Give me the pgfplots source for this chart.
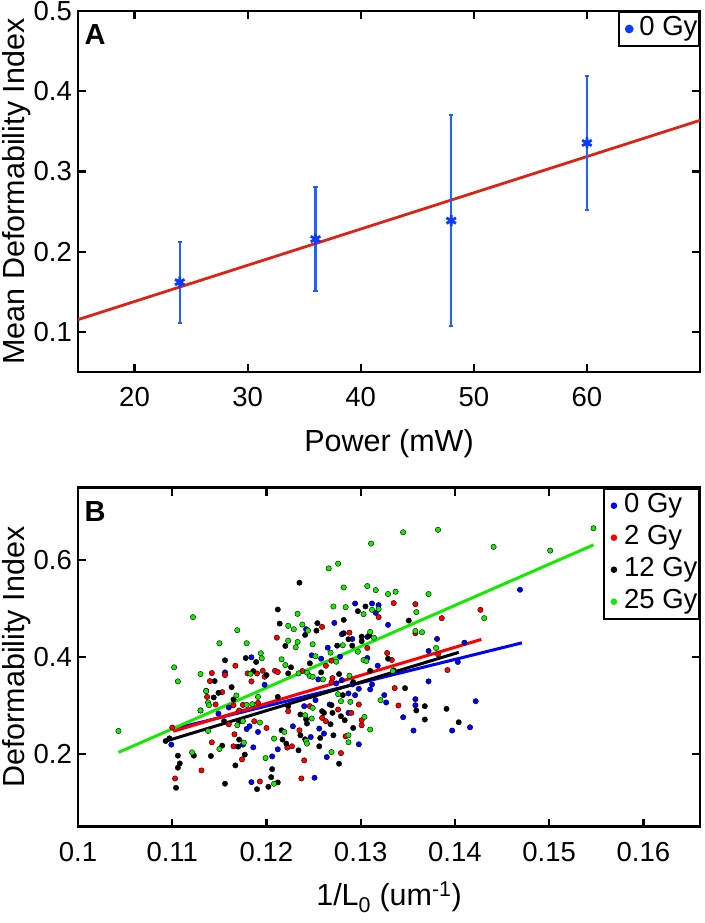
\documentclass[border=0pt]{standalone}
\usepackage{fontspec}
\setmainfont{Liberation Sans}
\usepackage{pgfplots}
\pgfplotsset{compat=1.18}
\definecolor{ebblue}{RGB}{30,100,245}
\definecolor{stblue}{RGB}{10,60,255}
\definecolor{fitred}{RGB}{220,35,20}
\definecolor{dblue}{RGB}{0,0,255}
\definecolor{dred}{RGB}{255,0,0}
\definecolor{dgreen}{RGB}{20,235,0}
\pgfplotsset{
  myaxis/.style={
    scale only axis, width=622pt,
    tick align=inside, major tick length=8pt,
    every tick/.style={black, line width=2.2pt},
    axis line style={line width=2.5pt},
    tick label style={font=\fontsize{27.5}{33}\selectfont},
    label style={font=\fontsize{30.5}{36}\selectfont},
    /pgf/number format/assume math mode=true,
    xticklabel style={inner sep=0pt, anchor=north, yshift=-15pt},
    yticklabel style={inner sep=0pt, anchor=east, xshift=-6pt},
    xlabel style={at={(axis description cs:0.5,0)}, anchor=base, yshift=-79pt, inner sep=0pt},
    ylabel style={at={(axis description cs:-0.0756,0.5)}, anchor=south, inner sep=0pt},
    legend cell align=left,
    legend style={at={(1,1)}, anchor=north east, draw=black, line width=2pt, inner xsep=0.5pt, inner ysep=1pt,
      font=\fontsize{27.5}{33}\selectfont,
      nodes={inner xsep=1pt, inner ysep=2.5pt, text depth=6.5pt, text height=20.5pt}},
  },
  dotleg/.style={legend image code/.code={\path[draw=none, fill=none] (0pt,-5pt) rectangle (19pt,5pt); \fill[#1] (9.8pt,0pt) circle (2.2pt);}},
  scat/.style={only marks, mark=*, mark size=2.7pt, mark options={draw=none, fill=#1}, dotleg=#1},
}
\begin{document}
\begin{tikzpicture}
\useasboundingbox (-78pt,11pt) rectangle (626pt,-912pt);
% ---------- Panel A ----------
\begin{axis}[myaxis, at={(0pt,0pt)}, anchor=north west, height=361pt,
  xmin=15, xmax=70, ymin=0.05, ymax=0.5,
  xtick={20,30,40,50,60}, xticklabels={20,30,40,50,60},
  ytick={0.1,0.2,0.3,0.4,0.5}, yticklabels={0.1,0.2,0.3,0.4,0.5},
  xlabel={Power (mW)}, ylabel={Mean Deformability Index}]
\addplot[fitred, line width=2.8pt, forget plot] coordinates {(15,0.1153) (70,0.3637)};
\addplot[only marks, mark=asterisk, mark size=5.5pt, mark options={stblue, line width=2.8pt},
  legend image code/.code={\path[draw=none, fill=none] (0pt,-5pt) rectangle (19pt,5pt); \fill[stblue] (9.8pt,0pt) circle (3.3pt);},
  error bars/.cd, y dir=both, y explicit, error mark=|,
  error bar style={ebblue, line width=2.5pt},
  error mark options={ebblue, line width=2pt, mark size=2.2pt}]
  table[x=x, y=y, y error=e] {
x y e
24 0.1620 0.0505
36 0.2157 0.0650
48 0.2387 0.1316
60 0.3355 0.0835
};
\addlegendentry{0 Gy}
\end{axis}
% ---------- Panel B ----------
\begin{axis}[myaxis, at={(0pt,-476.7pt)}, anchor=north west, height=339pt,
  xmin=0.1, xmax=0.166, ymin=0.05, ymax=0.75,
  xtick={0.1,0.11,0.12,0.13,0.14,0.15,0.16}, xticklabels={0.1,0.11,0.12,0.13,0.14,0.15,0.16},
  ytick={0.2,0.4,0.6}, yticklabels={0.2,0.4,0.6},
  xlabel={1/L\textsubscript{0} (um\textsuperscript{-1})}, ylabel={Deformability Index}]
\addplot[scat=dblue] table {
x y
0.1294 0.5109
0.1312 0.5109
0.1319 0.5076
0.1316 0.4916
0.1242 0.4578
0.1272 0.4709
0.1329 0.4667
0.1280 0.4475
0.1291 0.4377
0.1307 0.4419
0.1265 0.4197
0.1184 0.3998
0.1156 0.3687
0.1198 0.3430
0.1149 0.2837
0.1160 0.2962
0.1179 0.2518
0.1182 0.2574
0.1191 0.2456
0.1099 0.2195
0.1175 0.2195
0.1186 0.2139
0.1184 0.1420
0.1248 0.4039
0.1258 0.3969
0.1255 0.3542
0.1278 0.4010
0.1280 0.3528
0.1274 0.3459
0.1307 0.3983
0.1318 0.3824
0.1335 0.3729
0.1291 0.3438
0.1312 0.3438
0.1310 0.3335
0.1298 0.3347
0.1372 0.3501
0.1325 0.3217
0.1327 0.3065
0.1358 0.3134
0.1358 0.3009
0.1345 0.2761
0.1356 0.2485
0.1240 0.2989
0.1252 0.3113
0.1267 0.3024
0.1287 0.3252
0.1294 0.3217
0.1287 0.2850
0.1256 0.2526
0.1261 0.2423
0.1228 0.2574
0.1247 0.2352
0.1212 0.2098
0.1264 0.1938
0.1298 0.2201
0.1206 0.1952
0.1251 0.1511
0.1469 0.5393
0.1381 0.4377
0.1372 0.4129
0.1410 0.4300
0.1403 0.3901
0.1422 0.3092
0.1397 0.2485
0.1416 0.2553
};
\addlegendentry{0 Gy}
\addplot[scat=dred] table {
x y
0.1335 0.5117
0.1358 0.5096
0.1319 0.4827
0.1259 0.4626
0.1358 0.4495
0.1211 0.4404
0.1288 0.4508
0.1307 0.4191
0.1142 0.3673
0.1140 0.3507
0.1167 0.3824
0.1156 0.3631
0.1180 0.3666
0.1190 0.3666
0.1196 0.3720
0.1198 0.3596
0.1184 0.3501
0.1136 0.3306
0.1153 0.3279
0.1137 0.3181
0.1146 0.3024
0.1165 0.3009
0.1175 0.3015
0.1191 0.3057
0.1171 0.2900
0.1160 0.2616
0.1187 0.2678
0.1200 0.2539
0.1142 0.2243
0.1165 0.2160
0.1166 0.2408
0.1131 0.1662
0.1174 0.1890
0.1103 0.1496
0.1193 0.1434
0.1100 0.2547
0.1209 0.3720
0.1212 0.3693
0.1238 0.3714
0.1263 0.3824
0.1269 0.3928
0.1270 0.3569
0.1269 0.3480
0.1328 0.4087
0.1336 0.3362
0.1340 0.3003
0.1246 0.2989
0.1223 0.2885
0.1259 0.2746
0.1263 0.2678
0.1276 0.2920
0.1298 0.3024
0.1290 0.2850
0.1301 0.2699
0.1301 0.2595
0.1235 0.2491
0.1227 0.2160
0.1222 0.2133
0.1279 0.2021
0.1284 0.2367
0.1240 0.1870
0.1237 0.1496
0.1386 0.4806
0.1427 0.4978
0.1382 0.4060
0.1392 0.3735
0.1333 0.3942
};
\addlegendentry{2 Gy}
\addplot[scat=black] table {
x y
0.1235 0.5538
0.1305 0.5047
0.1297 0.4951
0.1212 0.4985
0.1214 0.4694
0.1241 0.4460
0.1254 0.4703
0.1253 0.4549
0.1282 0.4771
0.1351 0.4757
0.1220 0.4232
0.1282 0.4495
0.1287 0.4371
0.1301 0.4425
0.1309 0.4446
0.1301 0.4330
0.1275 0.4238
0.1291 0.4238
0.1145 0.3507
0.1156 0.3936
0.1178 0.3983
0.1189 0.3901
0.1186 0.3714
0.1200 0.3631
0.1149 0.3264
0.1163 0.3382
0.1144 0.3169
0.1165 0.3128
0.1130 0.2900
0.1155 0.2678
0.1171 0.2678
0.1093 0.2269
0.1097 0.2325
0.1153 0.2174
0.1171 0.2299
0.1170 0.2153
0.1123 0.1967
0.1106 0.1967
0.1108 0.1807
0.1106 0.1718
0.1141 0.1959
0.1167 0.1766
0.1177 0.1988
0.1104 0.1304
0.1156 0.1387
0.1190 0.1275
0.1202 0.1324
0.1226 0.3791
0.1223 0.3666
0.1246 0.3874
0.1258 0.3687
0.1277 0.3652
0.1329 0.3969
0.1310 0.3720
0.1292 0.3486
0.1347 0.3362
0.1359 0.2900
0.1368 0.2989
0.1368 0.2713
0.1212 0.3181
0.1223 0.2989
0.1236 0.2817
0.1242 0.2719
0.1243 0.2630
0.1259 0.2885
0.1261 0.2850
0.1269 0.3009
0.1270 0.2850
0.1268 0.2616
0.1279 0.2781
0.1283 0.2699
0.1281 0.3217
0.1292 0.2539
0.1257 0.2332
0.1271 0.2388
0.1216 0.2491
0.1217 0.2299
0.1221 0.2216
0.1236 0.2388
0.1241 0.2305
0.1234 0.2077
0.1256 0.2160
0.1277 0.1801
0.1206 0.1689
0.1205 0.1523
0.1212 0.1414
0.1391 0.2933
0.1404 0.2657
};
\addlegendentry{12 Gy}
\addplot[scat=dgreen] table {
x y
0.1122 0.4827
0.1169 0.4558
0.1150 0.4288
0.1179 0.4288
0.1345 0.6580
0.1311 0.6346
0.1266 0.5834
0.1276 0.5932
0.1282 0.5440
0.1307 0.5469
0.1316 0.5387
0.1329 0.5304
0.1337 0.5351
0.1372 0.5304
0.1271 0.5047
0.1284 0.5034
0.1319 0.4993
0.1312 0.4978
0.1303 0.4889
0.1359 0.4931
0.1233 0.4895
0.1223 0.4647
0.1229 0.4578
0.1238 0.4674
0.1244 0.4549
0.1358 0.4543
0.1365 0.4516
0.1223 0.4342
0.1233 0.4315
0.1231 0.4205
0.1249 0.4267
0.1310 0.4522
0.1314 0.4404
0.1281 0.4247
0.1043 0.2477
0.1102 0.3791
0.1106 0.3501
0.1130 0.3652
0.1194 0.4081
0.1195 0.3977
0.1183 0.3658
0.1136 0.3300
0.1168 0.3210
0.1138 0.3065
0.1139 0.3009
0.1179 0.3015
0.1185 0.3030
0.1191 0.3181
0.1130 0.2900
0.1169 0.2595
0.1175 0.2678
0.1193 0.2651
0.1138 0.2477
0.1150 0.2104
0.1176 0.2236
0.1121 0.2035
0.1199 0.1917
0.1216 0.3957
0.1220 0.3838
0.1234 0.3666
0.1252 0.4019
0.1243 0.3679
0.1246 0.3610
0.1249 0.3596
0.1260 0.3542
0.1274 0.3907
0.1268 0.4093
0.1288 0.3617
0.1297 0.4114
0.1303 0.3942
0.1306 0.3921
0.1321 0.3113
0.1249 0.2953
0.1241 0.2802
0.1248 0.2734
0.1279 0.3092
0.1276 0.3237
0.1289 0.3078
0.1304 0.2767
0.1310 0.2506
0.1219 0.2456
0.1208 0.2319
0.1242 0.2269
0.1243 0.2216
0.1269 0.2041
0.1287 0.2388
0.1287 0.2243
0.1208 0.1387
0.1382 0.6630
0.1441 0.6278
0.1501 0.6201
0.1547 0.6663
0.1431 0.4806
0.1380 0.4191
0.1334 0.3714
};
\addlegendentry{25 Gy}
\addplot[dblue, line width=3pt, forget plot] coordinates {(0.1102,0.2520) (0.1471,0.4296)};
\addplot[black, line width=3pt, forget plot] coordinates {(0.1092,0.2260) (0.1404,0.4100)};
\addplot[dred, line width=3pt, forget plot] coordinates {(0.1101,0.2470) (0.1428,0.4367)};
\addplot[dgreen, line width=3pt, forget plot] coordinates {(0.1043,0.2035) (0.1547,0.6320)};
\end{axis}
\node[anchor=base west, inner sep=0pt, font=\fontsize{29}{34}\selectfont\bfseries] at (6.5pt,-34pt) {A};
\node[anchor=base west, inner sep=0pt, font=\fontsize{29}{34}\selectfont\bfseries] at (6.5pt,-510.7pt) {B};
\end{tikzpicture}
\end{document}
